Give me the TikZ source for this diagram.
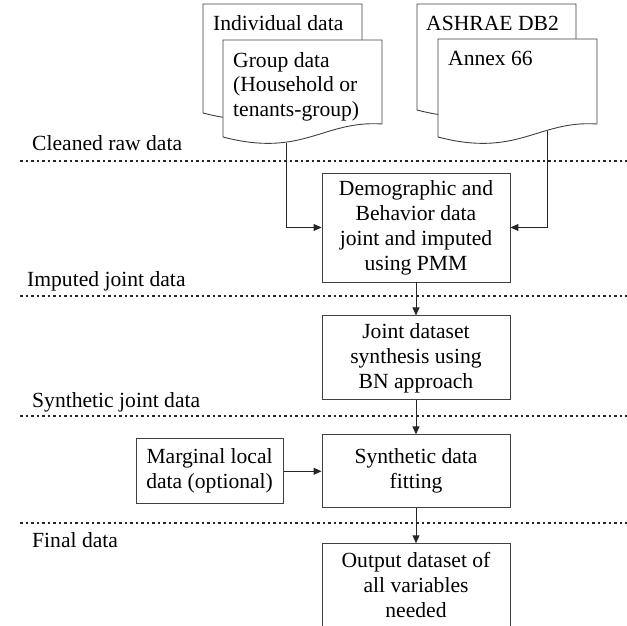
\documentclass[tikz,border=0pt]{standalone}
\usepackage{fontspec}
\setmainfont{Liberation Serif}
\usetikzlibrary{arrows.meta,positioning}
\tikzset{
    box/.style={rectangle, draw=black!75, line width=0.9pt, align=center,
        minimum width=188pt, inner sep=2pt, font={\fontsize{21.6}{25}\selectfont}},
    doctext/.style={anchor=base west, align=left, inner sep=0pt,
        font={\fontsize{21.6}{25}\selectfont}},
    layer/.style={anchor=base west, inner sep=0pt, font={\fontsize{21.6}{25}\selectfont}},
    sep/.style={line width=2.6pt, dash pattern=on 2.6pt off 2.9pt, black!85},
    arrow/.style={-{Triangle[length=8pt,width=7pt]}, line width=1pt, black!85},
    pics/datadoc/.style={code={
        \draw[draw=black!75, line width=0.9pt, fill=white]
            (0,0) -- (159,0) -- (159,{#1-13})
            .. controls (100,{#1-17}) and (80,{#1+21}) .. (0,#1) -- cycle;
    }}
}
\begin{document}
\begin{tikzpicture}[x=1pt, y=-1pt]
    \useasboundingbox (0,0) rectangle (627,626);
    % source documents
    \pic at (203,4) {datadoc=109};
    \node[doctext] (indiv) at (213,30.5) {Individual data};
    \pic at (223,40) {datadoc=97};
    \node[doctext] (group) at (233,117) {Group data\\(Household or\\tenants-group)};
    \pic at (417,4) {datadoc=106};
    \node[doctext] (ashrae) at (426,30.5) {ASHRAE DB2};
    \pic at (438,39) {datadoc=98};
    \node[doctext] (annex) at (448,65.5) {Annex 66};
    % data layers
    \node[layer] (cleaned) at (32,150) {Cleaned raw data};
    \node[layer] (imputed) at (27,286) {Imputed joint data};
    \node[layer] (synjoint) at (32,407) {Synthetic joint data};
    \node[layer] (final) at (32,547) {Final data};
    \draw[sep] (20,161) -- (627,161);
    \draw[sep] (20,296) -- (627,296);
    \draw[sep] (20,416) -- (627,416);
    \draw[sep] (20,523) -- (627,523);
    % process steps
    \node[box, minimum height=109pt] (impute) at (416,227.5)
        {Demographic and\\Behavior data\\joint and imputed\\using PMM};
    \node[box, minimum height=84pt, below=33pt of impute] (synth)
        {Joint dataset\\synthesis using\\BN approach};
    \node[box, minimum height=73pt, below=34pt of synth] (fit)
        {Synthetic data\\fitting};
    \node[box, minimum height=83pt, below=35pt of fit] (output)
        {Output dataset of\\all variables\\needed};
    \node[box, minimum width=147pt, minimum height=65pt, left=38pt of fit] (marginal)
        {Marginal local\\data (optional)};
    \coordinate (grpout) at (286,142.5);
    \coordinate (annexout) at (547,130.5);
    \draw[arrow] (grpout) |- (impute.west);
    \draw[arrow] (annexout) |- (impute.east);
    \draw[arrow] (impute) -- (synth);
    \draw[arrow] (synth) -- (fit);
    \draw[arrow] (fit) -- (output);
    \draw[arrow] (marginal) -- (fit);
\end{tikzpicture}
\end{document}
